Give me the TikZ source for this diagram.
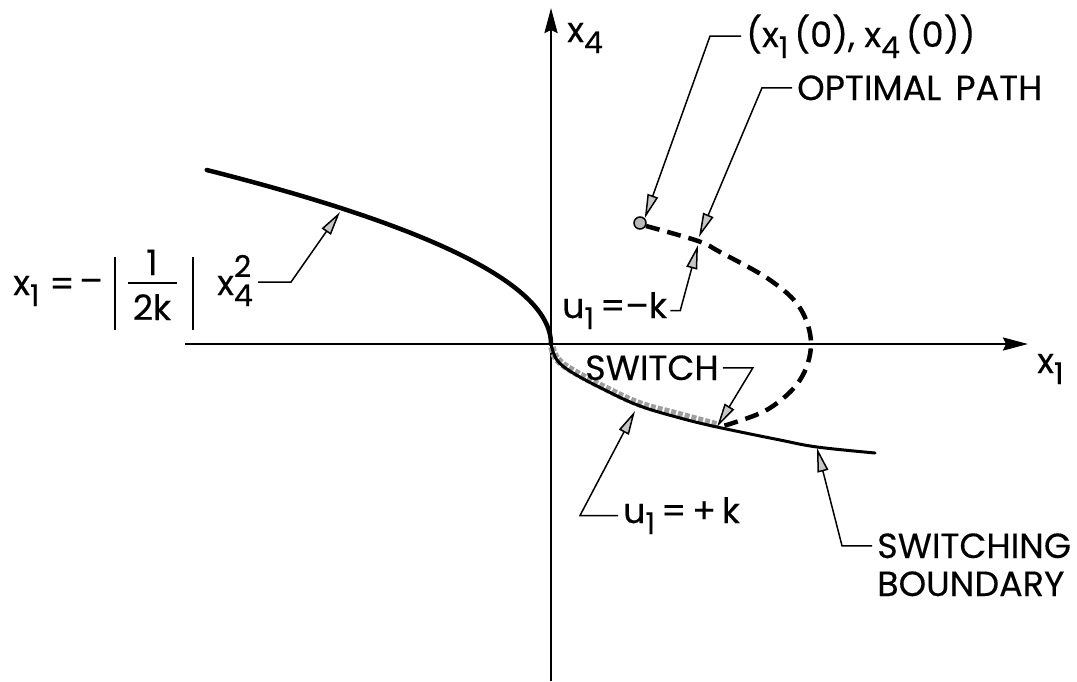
\documentclass[tikz,border=0pt]{standalone}
\usepackage{fontspec}
\setmainfont[FakeBold=0.3]{Poppins}
\usetikzlibrary{arrows.meta}
\newcommand\sbs[1]{\raisebox{-11pt}{\fontsize{30}{30}\selectfont #1}}
\newcommand\sps[1]{\raisebox{18pt}{\fontsize{30}{30}\selectfont #1}}
\begin{document}
\begin{tikzpicture}[x=1pt,y=-1pt,
  lbl/.style={inner sep=0pt, font=\fontsize{35}{40}\selectfont, anchor=base west},
  axis/.style={line width=2.4pt, -{Stealth[length=25pt,width=13pt,inset=3pt]}},
  leader/.style={line width=1.5pt, -{Triangle[length=24pt,width=11pt,fill=gray!45]}},
  heavy/.style={line width=4.5pt, line cap=round},
  bound/.style={line width=3pt, line cap=round},
  stipple/.style={line width=7.5pt, draw=gray!75, dash pattern=on 5pt off 2pt},
  optpath/.style={line width=4.5pt, dash pattern=on 14pt off 8pt},
  bar/.style={line width=2.4pt}
]
\useasboundingbox (0,0) rectangle (1077,681);
% axes
\coordinate (O) at (551,344);
\coordinate (xl) at (185,344);
\coordinate (xr) at (1028,344);
\coordinate (yb) at (551,681);
\coordinate (yt) at (551,8);
\draw[axis] (xl) -- (xr);
\draw[axis] (yb) -- (yt);
\node[lbl] (ax4) at (567,42) {x\sbs{4}};
\node[lbl] (ax1) at (1037,373) {x\sbs{1}};
% switching boundary, upper-left branch
\draw[heavy] plot[domain=17.4:0, samples=60] ({551-113.7*(\x/10)*(\x/10)},{344-10*\x});
% lower branch with stippled u1=+k part
\draw[stipple] plot[smooth, tension=0.6] coordinates {(552,347) (557,359) (573,371) (607,389) (640,404) (680,415) (717,425)};
\draw[bound] plot[smooth, tension=0.6] coordinates {(551,344) (557,360) (573,373) (607,391) (640,406) (680,418) (717,427) (780,440) (817,447) (875,453)};
% initial point and optimal path
\node[circle, draw, line width=1.5pt, fill=gray!55, minimum size=12pt, inner sep=0pt] (p0) at (640,223) {};
\draw[optpath] plot[smooth, tension=0.6] coordinates {(646,226) (698,241) (720,252) (770,280) (800,308) (811,344) (800,380) (770,408) (733,423) (717,427)};
% targets
\coordinate (t2) at (699,237);
\coordinate (t3) at (698,245);
\coordinate (tsw) at (717,427);
\coordinate (tup) at (635,411);
\coordinate (tsb) at (817,448);
\coordinate (tfm) at (340,212);
% labels
\node[lbl] (init) at (746,47) {(x\sbs{1}\,(0), x\sbs{4}\,(0))};
\node[lbl] (opt) at (797,100) {OPTIMAL\hspace{14pt}PATH};
\node[lbl] (um) at (562,318) {u\sbs{1}\,=–k};
\node[lbl] (sw) at (585,380) {SWITCH};
\node[lbl] (up) at (623,523) {u\sbs{1}\,=\,+\,k};
\node[lbl] (sb1) at (877,558) {SWITCHING};
\node[lbl] (sb2) at (877,596) {BOUNDARY};
% formula
\node[lbl] (fx) at (13,295) {x\sbs{1}};
\node[lbl, anchor=center] (feq) at (62,287) {=};
\node[lbl, anchor=center] (fmi) at (91,286) {–};
\draw[bar] (115,257) -- (115,330);
\draw[bar] (193,257) -- (193,330);
\node[lbl, anchor=base] (fn) at (152,275) {1};
\draw[bar] (128,283) -- (177,283);
\node[lbl, anchor=base] (fd) at (152,320) {2k};
\node[lbl] (fx4) at (217,295) {x\rlap{\sps{2}}\sbs{4}};
% leaders
\draw[leader] ([xshift=-5pt]init.west) -- ++(-31,0) -- (p0.north east);
\draw[leader] ([xshift=-5pt]opt.west) -- ++(-30,0) -- (t2);
\draw[leader] ([xshift=3pt]um.east) -- ++(10,0) -- (t3);
\draw[leader] ([xshift=4pt]sw.east) -- ++(30,0) -- (tsw);
\draw[leader] ([xshift=-5pt]up.west) -- ++(-38,0) -- (tup);
\draw[leader] ([xshift=-5pt]sb1.west) -- ++(-30,0) -- (tsb);
\draw[leader] ([shift={(5pt,13pt)}]fx4.base east) -- ++(33,0) -- (tfm);
\end{tikzpicture}
\end{document}
